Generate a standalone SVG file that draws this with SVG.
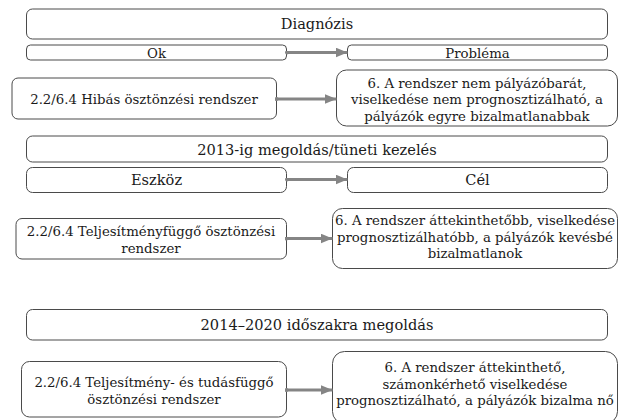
<svg xmlns="http://www.w3.org/2000/svg" width="622" height="420" viewBox="0 0 622 420">
  <style>
    .box { fill: #ffffff; stroke: #4a4a4a; stroke-width: 1; }
    .lbl { font-family: "DejaVu Serif", "Liberation Serif", serif; font-size: 13.3px; fill: #1a1a1a; text-anchor: middle; }
    .hdr { font-size: 14.6px; }
    .conn { stroke: #858585; stroke-width: 3; fill: none; marker-start: url(#dot); marker-end: url(#head); }
  </style>
  <defs>
    <marker id="dot" markerWidth="4" markerHeight="4" refX="2" refY="2" markerUnits="userSpaceOnUse" viewBox="0 0 4 4">
      <circle cx="2" cy="2" r="2" fill="#858585"/>
    </marker>
    <marker id="head" markerWidth="12" markerHeight="10" refX="12" refY="5" markerUnits="userSpaceOnUse" viewBox="0 0 12 10" orient="auto">
      <path d="M0,0 L12,5 L0,10 Z" fill="#858585"/>
    </marker>
  </defs>

  <!-- section 1: diagnosis -->
  <g id="diagnozis">
    <rect class="box" x="26.5" y="9" width="581" height="30" rx="6"/>
    <text class="lbl hdr" x="317" y="29">Diagnózis</text>
  </g>
  <g id="ok">
    <rect class="box" x="26.5" y="45" width="260" height="15" rx="4"/>
    <text class="lbl" x="156.5" y="57.5">Ok</text>
  </g>
  <g id="problema">
    <rect class="box" x="347.5" y="45" width="260" height="15" rx="4"/>
    <text class="lbl" x="477.5" y="57.5">Probléma</text>
  </g>
  <g id="hibas">
    <rect class="box" x="12" y="78" width="264.5" height="41" rx="6"/>
    <text class="lbl" x="144" y="103.5">2.2/6.4 Hibás ösztönzési rendszer</text>
  </g>
  <g id="nem-palyazobarat">
    <rect class="box" x="336.5" y="70" width="281" height="56" rx="10"/>
    <text class="lbl" x="477" y="87.5">6. A rendszer nem pályázóbarát,</text>
    <text class="lbl" x="477" y="104">viselkedése nem prognosztizálható, a</text>
    <text class="lbl" x="477" y="121">pályázók egyre bizalmatlanabbak</text>
  </g>

  <!-- section 2: until 2013 -->
  <g id="megoldas-2013">
    <rect class="box" x="26.5" y="136" width="581" height="26" rx="6"/>
    <text class="lbl hdr" x="317" y="154.5">2013-ig megoldás/tüneti kezelés</text>
  </g>
  <g id="eszkoz">
    <rect class="box" x="26.5" y="167.5" width="260" height="25" rx="6"/>
    <text class="lbl hdr" x="156.5" y="185">Eszköz</text>
  </g>
  <g id="cel">
    <rect class="box" x="347.5" y="167.5" width="260" height="25" rx="6"/>
    <text class="lbl hdr" x="477.5" y="185">Cél</text>
  </g>
  <g id="teljesitmenyfuggo">
    <rect class="box" x="16" y="218.5" width="270.5" height="40.5" rx="6"/>
    <text class="lbl" x="151" y="235.5">2.2/6.4 Teljesítményfüggő ösztönzési</text>
    <text class="lbl" x="151" y="253">rendszer</text>
  </g>
  <g id="attekinthetobb">
    <rect class="box" x="332.5" y="208.5" width="285" height="60" rx="10"/>
    <text class="lbl" x="475" y="225">6. A rendszer áttekinthetőbb, viselkedése</text>
    <text class="lbl" x="475" y="241.5">prognosztizálhatóbb, a pályázók kevésbé</text>
    <text class="lbl" x="475" y="258">bizalmatlanok</text>
  </g>

  <!-- section 3: 2014–2020 -->
  <g id="megoldas-2014-2020">
    <rect class="box" x="26.5" y="309.5" width="581" height="30.5" rx="6"/>
    <text class="lbl hdr" x="317" y="330">2014–2020 időszakra megoldás</text>
  </g>
  <g id="tudasfuggo">
    <rect class="box" x="21.5" y="361.5" width="265" height="55.5" rx="8"/>
    <text class="lbl" x="154" y="386.5">2.2/6.4 Teljesítmény- és tudásfüggő</text>
    <text class="lbl" x="154" y="404">ösztönzési rendszer</text>
  </g>
  <g id="attekintheto">
    <rect class="box" x="332.5" y="351.5" width="285" height="72" rx="12"/>
    <text class="lbl" x="475" y="372">6. A rendszer áttekinthető,</text>
    <text class="lbl" x="475" y="388.5">számonkérhető viselkedése</text>
    <text class="lbl" x="475" y="405">prognosztizálható, a pályázók bizalma nő</text>
  </g>

  <!-- connectors -->
  <g id="connectors">
    <line class="conn" x1="287" y1="52.5" x2="347.5" y2="52.5"/>
    <line class="conn" x1="276.5" y1="99" x2="336.5" y2="99"/>
    <line class="conn" x1="287" y1="179.5" x2="347.5" y2="179.5"/>
    <line class="conn" x1="286.5" y1="238.5" x2="332.5" y2="238.5"/>
    <line class="conn" x1="286.5" y1="390" x2="332.5" y2="390"/>
  </g>
</svg>
